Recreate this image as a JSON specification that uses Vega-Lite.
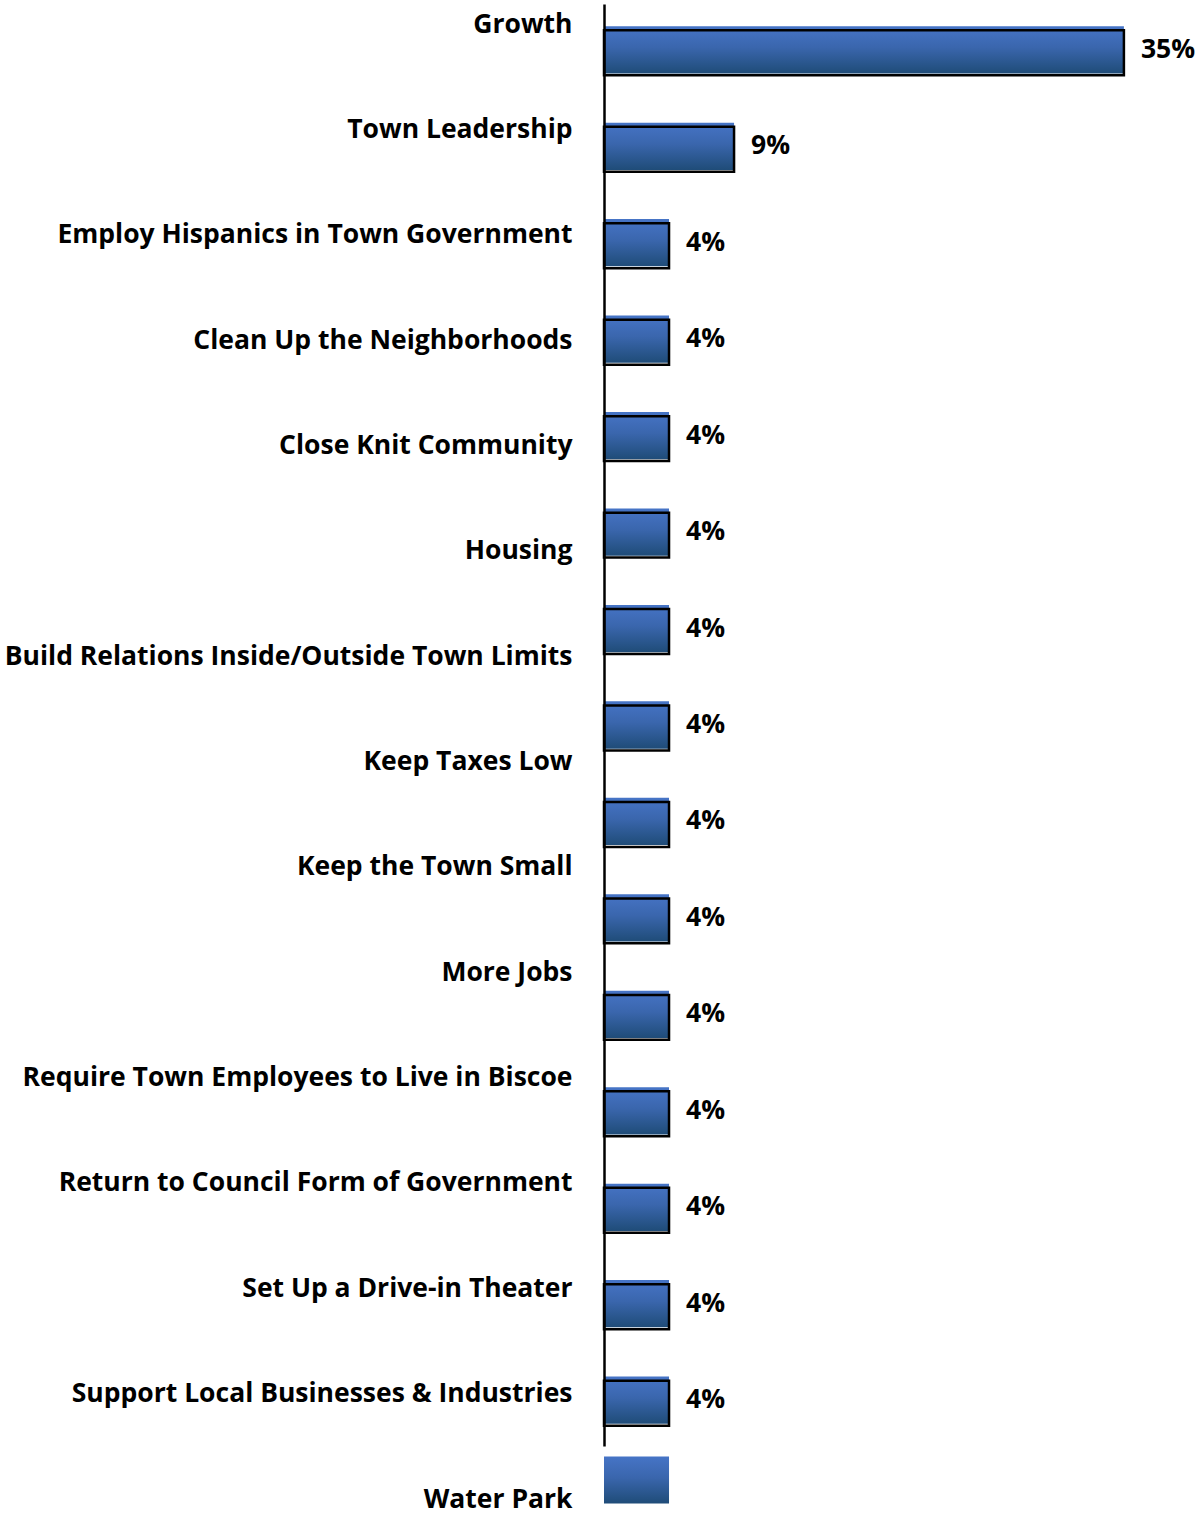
{
  "$schema": "https://vega.github.io/schema/vega-lite/v6.json",
  "width": 593,
  "height": 1515,
  "autosize": {"type": "none"},
  "padding": {"left": 604, "top": 0, "right": 0, "bottom": 0},
  "background": "white",
  "config": {"view": {"stroke": null}, "font": "Open Sans"},
  "datasets": {
    "items": [
      {"category": "Growth", "value": 0.3478},
      {"category": "Town Leadership", "value": 0.0870},
      {"category": "Employ Hispanics in Town Government", "value": 0.0435},
      {"category": "Clean Up the Neighborhoods", "value": 0.0435},
      {"category": "Close Knit Community", "value": 0.0435},
      {"category": "Housing", "value": 0.0435},
      {"category": "Build Relations Inside/Outside Town Limits", "value": 0.0435},
      {"category": "Keep Taxes Low", "value": 0.0435},
      {"category": "Keep the Town Small", "value": 0.0435},
      {"category": "More Jobs", "value": 0.0435},
      {"category": "Require Town Employees to Live in Biscoe", "value": 0.0435},
      {"category": "Return to Council Form of Government", "value": 0.0435},
      {"category": "Set Up a Drive-in Theater", "value": 0.0435},
      {"category": "Support Local Businesses & Industries", "value": 0.0435},
      {"category": "Water Park", "value": 0.0435}
    ]
  },
  "resolve": {"scale": {"y": "independent"}, "axis": {"y": "independent"}},
  "layer": [
    {
      "data": {"name": "items"},
      "encoding": {
        "y": {"field": "category", "type": "nominal",
              "scale": {"domain": ["Growth", "Town Leadership", "Employ Hispanics in Town Government", "Clean Up the Neighborhoods", "Close Knit Community", "Housing", "Build Relations Inside/Outside Town Limits", "Keep Taxes Low", "Keep the Town Small", "More Jobs", "Require Town Employees to Live in Biscoe", "Return to Council Form of Government", "Set Up a Drive-in Theater", "Support Local Businesses & Industries", "Water Park"],
                        "range": [4, 1446], "paddingInner": 0.51, "paddingOuter": 0.23},
              "axis": {"orient": "left", "title": null, "labels": false, "ticks": false, "grid": false,
                       "domain": true, "domainColor": "black", "domainWidth": 2.5, "zindex": 1}},
        "x": {"field": "value", "type": "quantitative",
              "scale": {"domain": [0, 0.3967], "nice": false}, "axis": null}
      },
      "layer": [
        {
          "mark": {
            "type": "bar",
            "color": {
              "gradient": "linear", "x1": 0, "y1": 0, "x2": 0, "y2": 1,
              "stops": [
                {"offset": 0, "color": "#4674c6"},
                {"offset": 0.45, "color": "#3a66ad"},
                {"offset": 1, "color": "#1f4c78"}
              ]
            }
          }
        },
        {
          "mark": {"type": "bar", "fill": null, "fillOpacity": 0, "stroke": "black", "strokeWidth": 2.5, "yOffset": 3, "height": {"band": 0.95}}
        },
        {
          "mark": {"type": "text", "align": "left", "baseline": "middle", "dx": 17, "fontSize": 26.5, "fontWeight": "bold", "color": "black", "font": "Open Sans"},
          "encoding": {
            "text": {"field": "value", "type": "quantitative", "format": ".0%"}
          }
        }
      ]
    },
    {
      "data": {"name": "items"},
      "transform": [{"filter": "datum.category === 'Water Park'"}],
      "mark": {
        "type": "bar", "height": 47, "yOffset": -19,
        "color": {
          "gradient": "linear", "x1": 0, "y1": 0, "x2": 0, "y2": 1,
          "stops": [
            {"offset": 0, "color": "#4674c6"},
            {"offset": 0.45, "color": "#3a66ad"},
            {"offset": 1, "color": "#1f4c78"}
          ]
        }
      },
      "encoding": {
        "y": {
          "field": "category", "type": "nominal",
          "scale": {"type": "point", "range": [24, 1499], "padding": 0,
                    "domain": ["Growth", "Town Leadership", "Employ Hispanics in Town Government", "Clean Up the Neighborhoods", "Close Knit Community", "Housing", "Build Relations Inside/Outside Town Limits", "Keep Taxes Low", "Keep the Town Small", "More Jobs", "Require Town Employees to Live in Biscoe", "Return to Council Form of Government", "Set Up a Drive-in Theater", "Support Local Businesses & Industries", "Water Park"]},
          "axis": {
            "orient": "left", "title": null, "domain": false, "ticks": false, "tickSize": 0,
            "labelPadding": 32, "labelLimit": 800, "labelFontSize": 26.5, "labelFontWeight": "bold",
            "labelColor": "black", "labelFont": "Open Sans", "labelAlign": "right", "labelBaseline": "middle", "grid": false
          }
        },
        "x": {"field": "value", "type": "quantitative"}
      }
    }
  ]
}
